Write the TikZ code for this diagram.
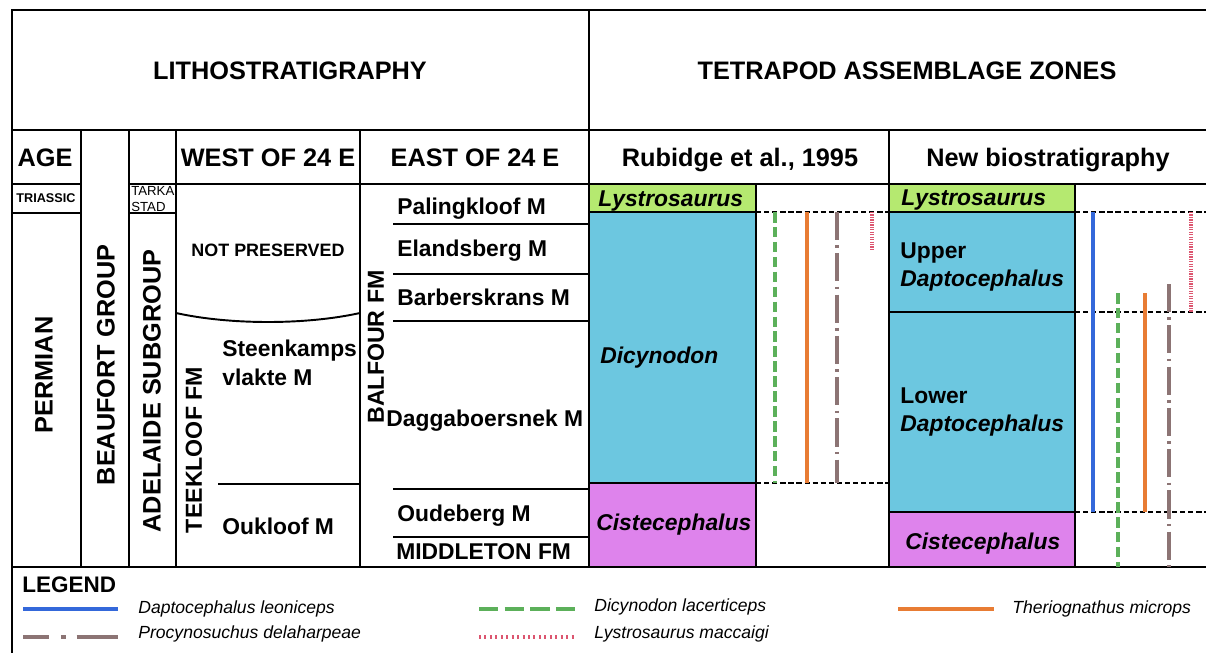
\documentclass[tikz,border=0pt]{standalone}
\usepackage{fontspec}
\setmainfont{Liberation Sans}
\definecolor{lystro}{RGB}{181,233,112}
\definecolor{dicyn}{RGB}{108,199,224}
\definecolor{ciste}{RGB}{222,131,236}
\definecolor{dleo}{RGB}{52,104,218}
\definecolor{dlac}{RGB}{92,176,90}
\definecolor{tmic}{RGB}{232,124,52}
\definecolor{pdel}{RGB}{140,116,116}
\definecolor{lmac}{RGB}{220,86,112}
\begin{document}
\begin{tikzpicture}[x=0.02cm,y=-0.02cm,
    rule/.style={line width=1.1pt},
    zone/.style={draw,line width=1.1pt},
    bound/.style={line width=0.9pt,dash pattern=on 3pt off 1.6pt},
    head/.style={inner sep=0pt,anchor=base,font=\fontsize{14.4}{16}\selectfont\bfseries},
    unit/.style={inner sep=0pt,anchor=base west,font=\fontsize{13}{15}\selectfont\bfseries},
    taxon/.style={unit,font=\fontsize{13}{15}\selectfont\bfseries\itshape},
    tiny/.style={inner sep=0pt,anchor=base,font=\fontsize{7.2}{8}\selectfont\bfseries},
    sp/.style={inner sep=0pt,anchor=base west,font=\fontsize{10}{12}\selectfont\itshape},
    leo/.style={dleo,line width=1.8pt},
    lac/.style={dlac,line width=1.8pt,dash pattern=on 6pt off 2.5pt},
    mic/.style={tmic,line width=1.8pt},
    del/.style={pdel,line width=1.8pt,dash pattern=on 16pt off 3pt on 1.5pt off 3pt},
    mac/.style={lmac,line width=2pt,dash pattern=on 0.7pt off 0.7pt}]
  \useasboundingbox (0,0) rectangle (1206,652);
  \clip (0,0) rectangle (1206,652);
  \path[zone,fill=lystro] (589,184) rectangle (756,212);
  \path[zone,fill=dicyn] (589,212) rectangle (756,483);
  \path[zone,fill=ciste] (589,483) rectangle (756,567);
  \path[zone,fill=lystro] (889,184) rectangle (1075,212);
  \path[zone,fill=dicyn] (889,212) rectangle (1075,312);
  \path[zone,fill=dicyn] (889,312) rectangle (1075,512);
  \path[zone,fill=ciste] (889,512) rectangle (1075,567);
  \draw[rule] (1220,10) -- (12,10) -- (12,660);
  \draw[rule] (12,130) -- (1220,130);
  \draw[rule] (12,184) -- (81,184) (129,184) -- (1220,184);
  \draw[rule] (12,213) -- (81,213) (129,213) -- (176,213);
  \draw[rule] (12,567) -- (1220,567);
  \draw[rule] (81,130) -- (81,567) (129,130) -- (129,567) (176,130) -- (176,567)
    (360,130) -- (360,567) (589,10) -- (589,567) (889,130) -- (889,567);
  \draw[rule] (176,313) .. controls (230,325) and (306,325) .. (360,313);
  \draw[rule] (218,484) -- (360,484);
  \foreach \y in {224,274,321,489,537}
    \draw[rule] (393,\y) -- (589,\y);
  \draw[bound] (756,212) -- (889,212) (756,483) -- (889,483);
  \draw[bound] (1075,212) -- (1220,212) (1075,312) -- (1220,312) (1075,512) -- (1220,512);
  \begin{scope}
    \draw[lac] (775,212) -- (775,483);
    \draw[mic] (807,212) -- (807,483);
    \draw[del] (837,212) -- (837,483);
    \draw[mac] (872,212) -- (872,249);
    \draw[leo] (1093,212) -- (1093,512);
    \draw[lac] (1118,293) -- (1118,567);
    \draw[mic] (1145,293) -- (1145,512);
    \draw[del] (1169,284) -- (1169,567);
    \draw[mac] (1191,212) -- (1191,312);
  \end{scope}
  \node[head] (lith) at (290,80) {LITHOSTRATIGRAPHY};
  \node[head] (tetra) at (907,80) {TETRAPOD ASSEMBLAGE ZONES};
  \node[head] (age) at (45,166) {AGE};
  \node[head] (west) at (268,166) {WEST OF 24 E};
  \node[head] (east) at (475,166) {EAST OF 24 E};
  \node[head] (rub) at (740,166) {Rubidge et al., 1995};
  \node[head] (newbio) at (1048,166) {New biostratigraphy};
  \node[tiny] (tri) at (46,202) {TRIASSIC};
  \node[tiny,anchor=base west,font=\fontsize{7.5}{8}\selectfont] (tarka) at (131,195) {TARKA};
  \node[tiny,anchor=base west,font=\fontsize{7.5}{8}\selectfont] (stad) at (131,211) {STAD};
  \node[head,anchor=center,rotate=90] (perm) at (44,375) {PERMIAN};
  \node[head,anchor=center,rotate=90] (beau) at (106,365) {BEAUFORT GROUP};
  \node[head,anchor=center,rotate=90] (adel) at (152,391) {ADELAIDE SUBGROUP};
  \node[head,anchor=center,rotate=90,font=\fontsize{13.2}{15}\selectfont\bfseries] (teek) at (194,450) {TEEKLOOF FM};
  \node[head,anchor=center,rotate=90,font=\fontsize{13.2}{15}\selectfont\bfseries] (balf) at (376,347) {BALFOUR FM};
  \node[head,font=\fontsize{10.2}{12}\selectfont\bfseries] (notp) at (268,256) {NOT PRESERVED};
  \node[unit] (steen) at (222,356) {Steenkamps};
  \node[unit] (vlak) at (222,385) {vlakte M};
  \node[unit] (ouk) at (222,534) {Oukloof M};
  \node[unit] (paling) at (397,214) {Palingkloof M};
  \node[unit] (elands) at (397,256) {Elandsberg M};
  \node[unit] (barber) at (397,305) {Barberskrans M};
  \node[unit] (dagga) at (386,426) {Daggaboersnek M};
  \node[unit] (oude) at (397,521) {Oudeberg M};
  \node[unit] (middle) at (396,559) {MIDDLETON FM};
  \node[taxon] (lysa) at (598,206) {Lystrosaurus};
  \node[taxon] (dicy) at (600,363) {Dicynodon};
  \node[taxon] (cisa) at (596,530) {Cistecephalus};
  \node[taxon] (lysb) at (901,205) {Lystrosaurus};
  \node[unit] (upper) at (900,258) {Upper};
  \node[taxon] (udapto) at (900,286) {Daptocephalus};
  \node[unit] (lower) at (900,403) {Lower};
  \node[taxon] (ldapto) at (900,431) {Daptocephalus};
  \node[taxon] (cisb) at (905,549) {Cistecephalus};
  \node[inner sep=0pt,anchor=base west,font=\fontsize{12.8}{14}\selectfont\bfseries] (legend) at (22,592) {LEGEND};
  \draw[leo,line width=2.4pt] (23,609) -- (118,609);
  \draw[pdel,line width=2.4pt,dash pattern=on 15pt off 6.5pt on 3pt off 6pt on 30pt] (23,637) -- (118,637);
  \draw[dlac,line width=2.4pt,dash pattern=on 11pt off 3.6pt] (479,609) -- (575,609);
  \draw[lmac,line width=2.2pt,dash pattern=on 1.1pt off 2pt] (479,637) -- (575,637);
  \draw[tmic,line width=2.4pt] (898,609) -- (994,609);
  \node[sp] (kleo) at (138,613) {Daptocephalus leoniceps};
  \node[sp] (kdel) at (138,638) {Procynosuchus delaharpeae};
  \node[sp] (klac) at (594,611) {Dicynodon lacerticeps};
  \node[sp] (kmac) at (594,638) {Lystrosaurus maccaigi};
  \node[sp] (kmic) at (1012,613) {Theriognathus microps};
\end{tikzpicture}
\end{document}
